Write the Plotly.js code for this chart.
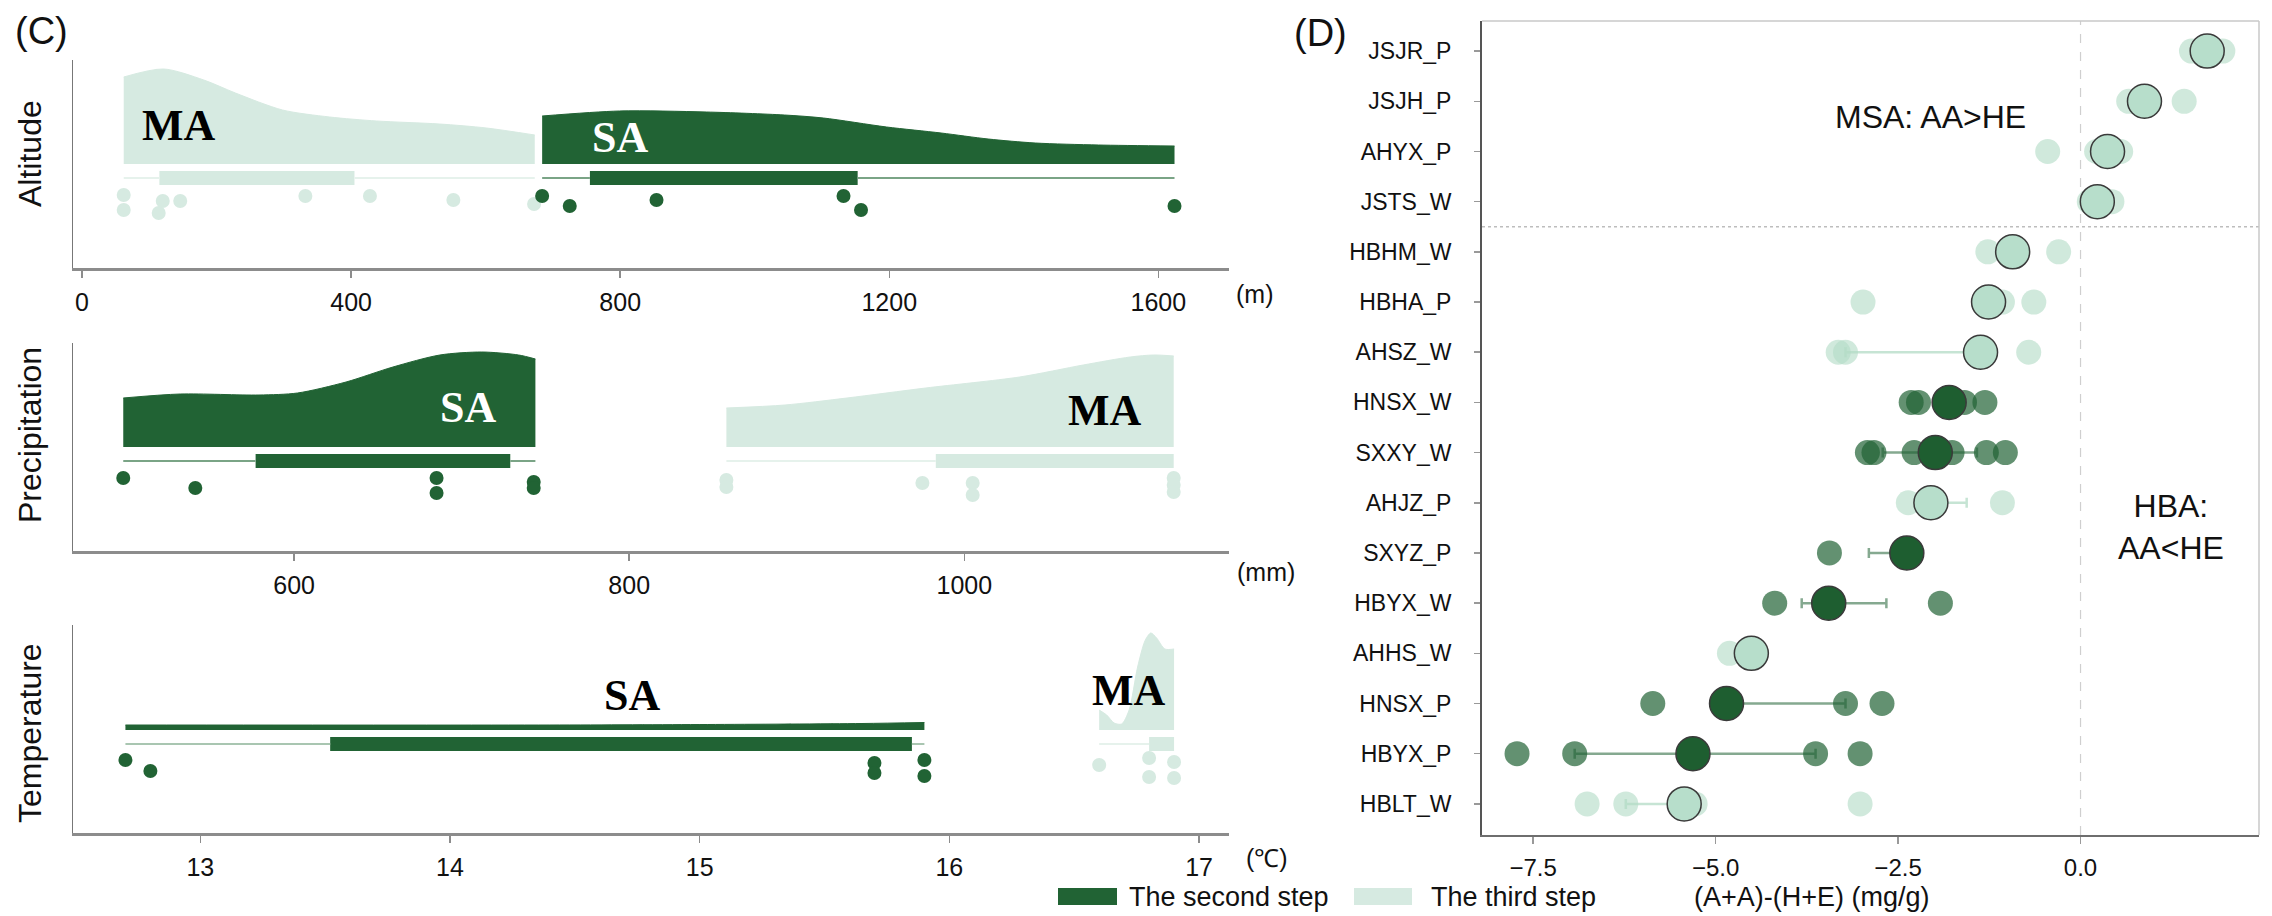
<!DOCTYPE html>
<html><head><meta charset="utf-8">
<script src="https://cdn.plot.ly/plotly-3.0.1.min.js"></script>
<style>html,body{margin:0;padding:0;background:#fff}</style>
</head><body><div id="chart" style="width:2272px;height:916px"></div>
<script>
// ================= Panel C data =================
// Altitude (m)
const altTicks = [0, 400, 800, 1200, 1600];
const altMA = [62, 62, 114, 120, 146, 332, 428, 552, 672];
const altMAjit = [-31, -46, -49, -37, -37, -32, -32, -36, -40];
const altSA = [684, 725, 854, 1132, 1158, 1624];
const altSAjit = [-32, -42, -36, -32, -46, -42];
const altMAdenX = [62, 121, 181, 228, 298, 368, 438, 531, 601, 673];
const altMAdenH = [87, 95, 84, 71, 54, 47, 43, 40, 36, 29];
const altSAdenX = [684, 799, 928, 1044, 1102, 1196, 1277, 1347, 1417, 1511, 1624];
const altSAdenH = [48, 53, 52, 49, 46, 37, 31, 25, 21, 19, 18];
const altMAbox = [115, 405], altMAwhisk = [62, 673];
const altSAbox = [755, 1153], altSAwhisk = [684, 1624];

// Precipitation (mm)
const precTicks = [600, 800, 1000];
const precSA = [498, 541, 685, 685, 743, 743];
const precSAjit = [-31, -41, -31, -46, -35, -41];
const precMA = [858, 858, 975, 1005, 1005, 1125, 1125, 1125];
const precMAjit = [-33, -40, -36, -36, -48, -31, -38, -45];
const precSAdenX = [498, 532, 579, 602, 631, 659, 687, 712, 734, 744];
const precSAdenH = [49, 53, 52, 54, 65, 80, 92, 95, 92, 88];
const precMAdenX = [858, 893, 930, 977, 1033, 1071, 1099, 1113, 1125];
const precMAdenH = [39, 42, 49, 59, 70, 82, 90, 92, 91];
const precSAbox = [577, 729], precSAwhisk = [498, 744];
const precMAbox = [983, 1125], precMAwhisk = [858, 1125];

// Temperature (°C)
const tempTicks = [13, 14, 15, 16, 17];
const tempSA = [12.70, 12.80, 15.70, 15.70, 15.90, 15.90];
const tempSAjit = [-30, -41, -33, -43, -30, -46];
const tempMA = [16.60, 16.80, 16.80, 16.90, 16.90];
const tempMAjit = [-35, -28, -47, -32, -48];
const tempSAdenX = [12.70, 14.40, 15.03, 15.65, 15.90];
const tempSAdenH = [5, 5, 5.5, 6.5, 7.5];
const tempMAdenX = [16.60, 16.63, 16.66, 16.69, 16.72, 16.754, 16.785, 16.807, 16.83, 16.863, 16.90];
const tempMAdenH = [20, 15, 7, 6, 20, 63, 90, 97, 92, 81, 81];
const tempSAbox = [13.52, 15.85], tempSAwhisk = [12.70, 15.90];
const tempMAbox = [16.80, 16.90], tempMAwhisk = [16.60, 16.90];

// ================= Panel D data =================
const sites = ['JSJR_P','JSJH_P','AHYX_P','JSTS_W','HBHM_W','HBHA_P','AHSZ_W','HNSX_W',
               'SXXY_W','AHJZ_P','SXYZ_P','HBYX_W','AHHS_W','HNSX_P','HBYX_P','HBLT_W'];
const siteStep = ['third','third','third','third','third','third','third','second',
                  'second','third','second','second','third','second','second','third'];
const siteMean = [1.735, 0.876, 0.37, 0.23, -0.93, -1.26, -1.37, -1.80,
                  -1.99, -2.05, -2.38, -3.45, -4.51, -4.85, -5.31, -5.43];
const errMinus = [0, 0, 0, 0, 0, 0, 1.85, 0.2, 0.72, 0.2, 0.52, 0.37, 0, 0.2, 1.62, 0.8];
const errPlus  = [0, 0, 0, 0, 0, 0, 0, 0.2, 0.57, 0.49, 0.2, 0.79, 0, 1.63, 1.68, 0.2];
const repVals = [
  [1.52, 1.72, 1.95],
  [0.66, 0.90, 1.42],
  [-0.45, 0.22, 0.55],
  [0.12, 0.25, 0.43],
  [-1.27, -0.95, -0.30],
  [-2.98, -1.07, -0.64],
  [-3.32, -3.22, -0.71],
  [-2.32, -2.22, -1.59, -1.31],
  [-2.92, -2.83, -2.28, -1.76, -1.29, -1.03],
  [-2.36, -1.07],
  [-3.44],
  [-4.19, -1.92],
  [-4.81],
  [-5.86, -3.22, -2.72],
  [-7.72, -6.93, -3.63, -3.02],
  [-6.76, -6.23, -5.28, -3.02]
];
const dTicks = [-7.5, -5, -2.5, 0];

// ================= styles =================
const DARK = '#216334', LIGHT = '#d6eae1';
const FONT = 'Liberation Sans, Arial, sans-serif';
const SERIF = 'Liberation Serif, Times New Roman, serif';

const traces = [];
function addRain(xa, ya, den, box, whisk, pts, jit, fill, whiskColor) {
  traces.push({type:'scatter', mode:'lines', x:[whisk[0], box[0], null, box[1], whisk[1]],
    y:[-14, -14, null, -14, -14], xaxis: xa, yaxis: ya, connectgaps:false,
    line:{color: whiskColor, width: 2}, hoverinfo:'skip', showlegend:false});
  traces.push({type:'bar', orientation:'h', y:[-14], x:[box[1]-box[0]], base:[box[0]], width:14,
    xaxis: xa, yaxis: ya, marker:{color: fill, line:{width:0}}, hoverinfo:'skip', showlegend:false});
  traces.push({type:'scatter', mode:'lines', x: den[0], y: den[1], xaxis: xa, yaxis: ya,
    fill:'tozeroy', fillcolor: fill, line:{color: fill, width:1, shape:'spline', smoothing:0.8},
    hoverinfo:'skip', showlegend:false});
  traces.push({type:'scatter', mode:'markers', x: pts, y: jit, xaxis: xa, yaxis: ya,
    marker:{color: fill, size:14}, hoverinfo:'skip', showlegend:false});
}
addRain('x','y',[altMAdenX, altMAdenH], altMAbox, altMAwhisk, altMA, altMAjit, LIGHT, '#e6f2ec');
addRain('x','y',[altSAdenX, altSAdenH], altSAbox, altSAwhisk, altSA, altSAjit, DARK, '#7aa486');
addRain('x2','y2',[precSAdenX, precSAdenH], precSAbox, precSAwhisk, precSA, precSAjit, DARK, '#7aa486');
addRain('x2','y2',[precMAdenX, precMAdenH], precMAbox, precMAwhisk, precMA, precMAjit, LIGHT, '#e6f2ec');
addRain('x3','y3',[tempSAdenX, tempSAdenH], tempSAbox, tempSAwhisk, tempSA, tempSAjit, DARK, '#a9c6b1');
addRain('x3','y3',[tempMAdenX, tempMAdenH], tempMAbox, tempMAwhisk, tempMA, tempMAjit, LIGHT, '#e6f2ec');

// Panel D traces
const stepStyle = {
  second: {rep:'rgba(33,99,52,0.70)', mean:'#1e5e30', err:'rgba(33,99,52,0.55)'},
  third:  {rep:'rgba(179,219,198,0.62)', mean:'#b7decb', err:'rgba(179,219,198,0.75)'}
};
['third','second'].forEach(g => {
  const rx = [], ry = [];
  sites.forEach((s, i) => { if (siteStep[i] === g) repVals[i].forEach(v => { rx.push(v); ry.push(s); }); });
  traces.push({type:'scatter', mode:'markers', x: rx, y: ry, xaxis:'x4', yaxis:'y4',
    marker:{color: stepStyle[g].rep, size:25, line:{width:0}}, hoverinfo:'skip', showlegend:false});
});
['third','second'].forEach(g => {
  const mx = [], my = [], ep = [], em = [];
  sites.forEach((s, i) => { if (siteStep[i] === g) { mx.push(siteMean[i]); my.push(s); ep.push(errPlus[i]); em.push(errMinus[i]); } });
  traces.push({type:'scatter', mode:'markers', x: mx, y: my, xaxis:'x4', yaxis:'y4',
    error_x:{type:'data', symmetric:false, array: ep, arrayminus: em, color: stepStyle[g].err, thickness:2.5, width:5},
    marker:{color: stepStyle[g].mean, size:34, line:{color:'#3a3a3a', width:1.5}}, hoverinfo:'skip', showlegend:false});
});

function cx(domain, range, ticks, ya) {
  return {domain: domain, anchor: ya, range: range, tickvals: ticks, showline:true, linecolor:'#8c8c8c',
    linewidth:3, ticks:'outside', ticklen:7, tickwidth:1.5, tickcolor:'#8c8c8c', showgrid:false,
    zeroline:false, tickfont:{size:25, color:'#111', family: FONT}, ticklabelstandoff:3};
}
function cy(domain, range, xa) {
  return {domain: domain, anchor: xa, range: range, showline:true, linecolor:'#777', linewidth:1.5,
    showticklabels:false, ticks:'', showgrid:false, zeroline:false};
}
const CX = [73/2272, 1229/2272];

const ann = [];
function A(o) { ann.push(Object.assign({showarrow:false, xanchor:'center', yanchor:'middle',
  font:{size:25, family:FONT, color:'#111'}}, o)); }
const PX = v => v/2272, PY = v => (916-v)/916;
A({text:'(C)', xref:'paper', yref:'paper', x:PX(41), y:PY(31), font:{size:38, family:FONT, color:'#111'}});
A({text:'(D)', xref:'paper', yref:'paper', x:PX(1320), y:PY(33), font:{size:38, family:FONT, color:'#111'}});
A({text:'Altitude', xref:'paper', yref:'paper', x:PX(30), y:PY(154), textangle:-90, font:{size:32, family:FONT, color:'#111'}});
A({text:'Precipitation', xref:'paper', yref:'paper', x:PX(30), y:PY(435), textangle:-90, font:{size:32, family:FONT, color:'#111'}});
A({text:'Temperature', xref:'paper', yref:'paper', x:PX(30), y:PY(733), textangle:-90, font:{size:32, family:FONT, color:'#111'}});
A({text:'(m)', xref:'paper', yref:'paper', x:PX(1254), y:PY(294)});
A({text:'(mm)', xref:'paper', yref:'paper', x:PX(1266), y:PY(572)});
A({text:'(℃)', xref:'paper', yref:'paper', x:PX(1267), y:PY(858)});
const GL = (t, xa, ya, x, y, c) => A({text:'<b>'+t+'</b>', xref:xa, yref:ya, x:x, y:y, font:{size:44, family:SERIF, color:c}});
GL('MA','x','y',144,39,'#000'); GL('SA','x','y',800,27,'#fff');
GL('SA','x2','y2',704,40,'#fff'); GL('MA','x2','y2',1084,37,'#000');
GL('SA','x3','y3',14.73,35,'#000'); GL('MA','x3','y3',16.72,40,'#000');
A({text:'MSA: AA&gt;HE', xref:'x4', yref:'y4', x:-2.06, y:1.31, font:{size:32, family:FONT, color:'#111'}});
A({text:'HBA:<br>AA&lt;HE', xref:'x4', yref:'y4', x:1.24, y:9.48, font:{size:32, family:FONT, color:'#111'}});
A({text:'(A+A)-(H+E) (mg/g)', xref:'paper', yref:'paper', x:PX(1812), y:PY(897), font:{size:27, family:FONT, color:'#111'}});
A({text:'The second step', xref:'paper', yref:'paper', xanchor:'left', x:PX(1127), y:PY(897), font:{size:27, family:FONT, color:'#111'}});
A({text:'The third step', xref:'paper', yref:'paper', xanchor:'left', x:PX(1429), y:PY(897), font:{size:27, family:FONT, color:'#111'}});

const shapes = [
  {type:'rect', xref:'paper', yref:'paper', x0:PX(1058), x1:PX(1117), y0:PY(905), y1:PY(888), fillcolor:DARK, line:{width:0}},
  {type:'rect', xref:'paper', yref:'paper', x0:PX(1354), x1:PX(1412), y0:PY(905), y1:PY(888), fillcolor:LIGHT, line:{width:0}},
  {type:'line', xref:'x4 domain', yref:'y4', x0:0, x1:1, y0:3.5, y1:3.5, line:{color:'#bdbdbd', width:1.5, dash:'dot'}, layer:'below'},
  {type:'line', xref:'x4', yref:'y4 domain', x0:0, x1:0, y0:0, y1:1, line:{color:'#cfcfcf', width:1.2, dash:'dash'}, layer:'below'},
  {type:'line', xref:'x4 domain', yref:'y4 domain', x0:0, x1:1, y0:1, y1:1, line:{color:'#c8c8c8', width:1.5}},
  {type:'line', xref:'x4 domain', yref:'y4 domain', x0:1, x1:1, y0:0, y1:1, line:{color:'#c8c8c8', width:1.5}}
];

const layout = {
  width:2272, height:916, margin:{l:0, r:0, t:0, b:0}, paper_bgcolor:'#fff', plot_bgcolor:'rgba(0,0,0,0)',
  showlegend:false, barmode:'overlay', font:{family:FONT},
  xaxis: cx(CX, [-13.4, 1705], altTicks, 'y'),
  yaxis: cy([PY(268), PY(60)], [-104, 104], 'x'),
  xaxis2: cx(CX, [468, 1158], precTicks, 'y2'),
  yaxis2: cy([PY(551), PY(343)], [-104, 104], 'x2'),
  xaxis3: cx(CX, [12.49, 17.12], tempTicks, 'y3'),
  yaxis3: cy([PY(833), PY(625)], [-103, 105], 'x3'),
  xaxis4: {domain:[PX(1482), PX(2259)], anchor:'y4', range:[-8.2, 2.445], tickvals: dTicks, tickformat:'.1f',
    showline:true, linecolor:'#6e6e6e', linewidth:2, ticks:'outside', ticklen:7, tickwidth:1.5, tickcolor:'#999',
    showgrid:false, zeroline:false, tickfont:{size:24, color:'#111', family:FONT}, ticklabelstandoff:3},
  yaxis4: {domain:[PY(835), PY(21)], anchor:'x4', type:'category', categoryarray: sites,
    range:[15.62, -0.6], showline:true, linecolor:'#555', linewidth:2, ticks:'outside', ticklen:6, tickwidth:1.5,
    tickcolor:'#999', showgrid:false, zeroline:false, tickfont:{size:23, color:'#111', family:FONT}, ticklabelstandoff:18},
  annotations: ann, shapes: shapes
};
Plotly.newPlot('chart', traces, layout, {staticPlot:true, displayModeBar:false});
</script></body></html>
